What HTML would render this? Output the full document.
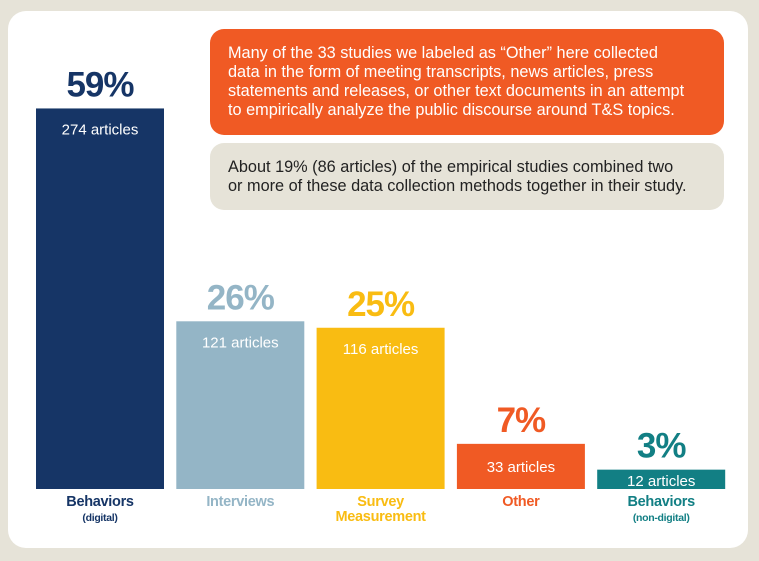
<!DOCTYPE html>
<html><head><meta charset="utf-8"><style>
body{margin:0;width:759px;height:561px;background:#e6e3d8;font-family:"Liberation Sans",sans-serif;overflow:hidden;position:relative}
.panel{position:absolute;left:8px;top:11px;width:740px;height:537px;background:#fff;border-radius:18px}
.box{position:absolute;left:210px;width:496px;padding:0 0 0 18px;border-radius:14px;font-size:16.3px;line-height:19px;display:flex;align-items:center;white-space:nowrap}
.lbl{position:absolute;text-align:center;font-weight:bold;font-size:14.5px;line-height:15px;letter-spacing:-0.3px}
.sub{font-size:10.5px;font-weight:bold}
</style></head><body>
<div class="panel"></div>
<div class="box" style="top:29px;height:106px;background:#f05a24;color:#fff"><div>Many of the 33 studies we labeled as “Other” here collected<br>data in the form of meeting transcripts, news articles, press<br>statements and releases, or other text documents in an attempt<br>to empirically analyze the public discourse around T&amp;S topics.</div></div>
<div class="box" style="top:143px;height:67px;background:#e6e3d8;color:#222"><div>About 19% (86 articles) of the empirical studies combined two<br>or more of these data collection methods together in their study.</div></div>
<svg id="chart" width="759" height="561" style="position:absolute;left:0;top:0"></svg>
<div id="labels"></div>
<script>
const categories=["Behaviors","Interviews","Survey","Other","Behaviors"];
const subLabels=["(digital)","","Measurement","","(non-digital)"];
const percents=[59,26,25,7,3];
const articles=[274,121,116,33,12];
const colors=["#163566","#94b5c6","#f9bc12","#f05a24","#127f84"];
const NS="http://www.w3.org/2000/svg";
const svg=document.getElementById('chart');
const base=489, scale=6.45, x0=36, step=140.3, bw=128;
const xPos=i=>x0+i*step;
const yPos=v=>base-v*scale;
percents.forEach((p,i)=>{
  const r=document.createElementNS(NS,'rect');
  r.setAttribute('x',xPos(i));r.setAttribute('y',yPos(p));
  r.setAttribute('width',bw);r.setAttribute('height',base-yPos(p));
  r.setAttribute('fill',colors[i]);
  
  
  svg.appendChild(r);
  const pt=document.createElementNS(NS,'text');
  pt.setAttribute('x',xPos(i)+bw/2);pt.setAttribute('y',yPos(p)-12);
  pt.setAttribute('text-anchor','middle');pt.setAttribute('font-size','35');
  pt.setAttribute('font-weight','bold');pt.setAttribute('fill',colors[i]);
  pt.setAttribute('letter-spacing','-1');
  pt.setAttribute('font-family','Liberation Sans, sans-serif');
  pt.textContent=p+'%';
  
  
  svg.appendChild(pt);
  const at=document.createElementNS(NS,'text');
  const h=base-yPos(p);
  at.setAttribute('x',xPos(i)+bw/2);
  at.setAttribute('y',h<30?base-3:yPos(p)+(h<60?28:26));
  at.setAttribute('text-anchor','middle');at.setAttribute('font-size','15');
  at.setAttribute('fill','#fff');
  at.setAttribute('font-family','Liberation Sans, sans-serif');
  at.textContent=articles[i]+' articles';
  
  
  svg.appendChild(at);
  const d=document.createElement('div');
  d.className='lbl';
  d.style.left=xPos(i)+'px';d.style.width=bw+'px';d.style.top='495px';d.style.color=colors[i];
  d.innerHTML=categories[i]+(subLabels[i]?('<br>'+(subLabels[i]==='Measurement'?'Measurement':'<span class="sub">'+subLabels[i]+'</span>')):'');
  
  
  document.getElementById('labels').appendChild(d);
});
</script>
</body></html>
